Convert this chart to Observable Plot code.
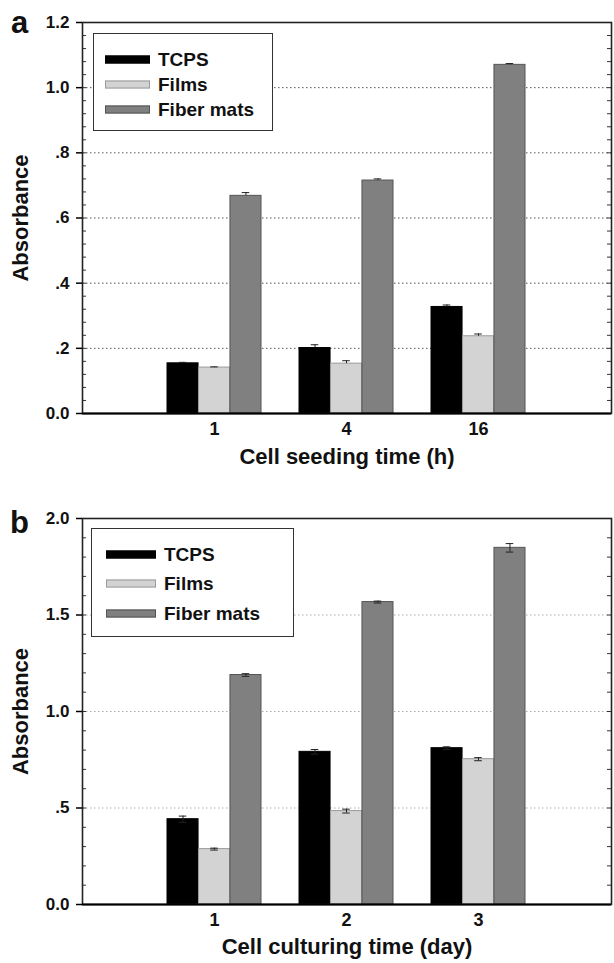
<!DOCTYPE html>
<html>
<head>
<meta charset="utf-8">
<script src="https://cdn.jsdelivr.net/npm/d3@7"></script>
<script src="https://cdn.jsdelivr.net/npm/@observablehq/plot@0.6"></script>
<style>
  body { margin: 0; background: #fff; font-family: "Liberation Sans", Arial, sans-serif; }
  #root { position: relative; width: 614px; height: 963px; overflow: hidden; }
  .panel { position: absolute; left: 0; width: 614px; }
  .panel svg { display: block; }
  .legend { position: absolute; border: 1px solid #333; background: #fff; box-sizing: border-box; }
  .legend .item { position: absolute; display: flex; align-items: center; font-weight: bold; font-size: 19px; color: #111; line-height: 1; transform: translateY(-50%); }
  .legend .sw { display: inline-block; box-sizing: border-box; height: 8px; }
</style>
</head>
<body>
<div id="root"></div>
<script>
// ---------- data ----------
const seriesNames = ["TCPS", "Films", "Fiber mats"];
const seriesFill = ["#000000", "#d3d3d3", "#808080"];
const seriesStroke = ["#000000", "#9a9a9a", "#555555"];

// panel a: cell seeding time (h)
const aTimes = ["1", "4", "16"];
const aTCPS = [0.154, 0.201, 0.327];
const aFilms = [0.141, 0.153, 0.237];
const aFiber = [0.668, 0.715, 1.070];
const aTCPSErr = [0.003, 0.010, 0.006];
const aFilmsErr = [0.002, 0.009, 0.007];
const aFiberErr = [0.010, 0.005, 0.004];
const aTicks = [0, 0.2, 0.4, 0.6, 0.8, 1.0, 1.2];
const aTickLabels = ["0.0", ".2", ".4", ".6", ".8", "1.0", "1.2"];
const aGrid = [0.2, 0.4, 0.6, 0.8, 1.0];

// panel b: cell culturing time (day)
const bTimes = ["1", "2", "3"];
const bTCPS = [0.442, 0.791, 0.810];
const bFilms = [0.287, 0.484, 0.753];
const bFiber = [1.189, 1.567, 1.848];
const bTCPSErr = [0.016, 0.012, 0.007];
const bFilmsErr = [0.005, 0.010, 0.008];
const bFiberErr = [0.007, 0.005, 0.022];
const bTicks = [0, 0.5, 1.0, 1.5, 2.0];
const bTickLabels = ["0.0", ".5", "1.0", "1.5", "2.0"];
const bGrid = [0.5, 1.0, 1.5];

// ---------- drawing ----------
const W = 614, ML = 82, MR = 3;
const PI = 0.286, PO = 0.643;

function makePanel(cfg) {
  const plotW = W - ML - MR;
  const n = cfg.times.length;
  const step = plotW / (n - PI + 2 * PO);
  const bw = step * (1 - PI);
  const sub = bw / 3;
  const minor = d3.range(0, cfg.yMax + 1e-9, cfg.minorStep);

  const marks = [
    Plot.ruleY(cfg.grid, {stroke: cfg.gridColor, strokeWidth: 1, strokeDasharray: "1.5,2.5"})
  ];
  cfg.values.forEach((vals, i) => {
    const rows = cfg.times.map((t, j) => ({time: t, v: vals[j], e: cfg.errors[i][j]}));
    marks.push(Plot.barY(rows, {
      x: "time", y: "v", fill: seriesFill[i], stroke: seriesStroke[i], strokeWidth: 1,
      insetLeft: i * sub, insetRight: (2 - i) * sub
    }));
  });
  cfg.values.forEach((vals, i) => {
    const rows = cfg.times.map((t, j) => ({time: t, v: vals[j], e: cfg.errors[i][j]}));
    const capL = i * sub + sub / 2 - 4, capR = (2 - i) * sub + sub / 2 - 4;
    marks.push(Plot.ruleX(rows, {
      x: "time", y1: d => cfg.lowerErr ? d.v - d.e : d.v, y2: d => d.v + d.e,
      dx: (i - 1) * sub, stroke: "#222", strokeWidth: 1
    }));
    marks.push(Plot.tickY(rows, {x: "time", y: d => d.v + d.e, insetLeft: capL, insetRight: capR, stroke: "#222", strokeWidth: 1}));
    if (cfg.lowerErr) {
      marks.push(Plot.tickY(rows, {x: "time", y: d => d.v - d.e, insetLeft: capL, insetRight: capR, stroke: "#222", strokeWidth: 1}));
    }
  });
  marks.push(
    Plot.tickY(minor, {y: d => d, insetRight: plotW - 4, stroke: "#333", strokeWidth: 1}),
    Plot.tickY(minor, {y: d => d, insetLeft: plotW - 4, stroke: "#333", strokeWidth: 1}),
    Plot.frame({stroke: "#222", strokeWidth: 1.6}),
    Plot.ruleY([0], {stroke: "#000", strokeWidth: 2}),
    Plot.axisY({
      ticks: cfg.ticks, tickFormat: d => cfg.tickLabels[cfg.ticks.indexOf(d)],
      tickSize: 6, tickPadding: 7, fontSize: 17, fontWeight: "bold", label: null, stroke: "#000", strokeWidth: 1.5
    }),
    Plot.axisX({tickSize: 0, tickPadding: 9, fontSize: 18, fontWeight: "bold", label: null}),
    Plot.text([cfg.letter], {text: d => d, frameAnchor: "top-left", dx: -63, dy: cfg.letterDy, fontSize: 31, fontWeight: "bold", textAnchor: "middle", lineAnchor: "bottom"}),
    Plot.text(["Absorbance"], {text: d => d, frameAnchor: "left", dx: -62, rotate: -90, fontSize: 22, fontWeight: "bold", textAnchor: "middle", lineAnchor: "middle"}),
    Plot.text([cfg.xTitle], {text: d => d, frameAnchor: "bottom", dy: cfg.titleDy, fontSize: 22, fontWeight: "bold", textAnchor: "middle", lineAnchor: "bottom"})
  );

  return Plot.plot({
    width: W,
    height: cfg.height,
    marginLeft: ML,
    marginRight: MR,
    marginTop: cfg.marginTop,
    marginBottom: cfg.marginBottom,
    style: {fontFamily: "'Liberation Sans', Arial, sans-serif", color: "#111", background: "#fff", overflow: "visible"},
    x: {type: "band", domain: cfg.times, paddingInner: PI, paddingOuter: PO},
    y: {domain: [0, cfg.yMax]},
    marks
  });
}

function makeLegend(box) {
  const lg = document.createElement("div");
  lg.className = "legend";
  Object.assign(lg.style, {left: box.left + "px", top: box.top + "px", width: box.width + "px", height: box.height + "px"});
  seriesNames.forEach((name, i) => {
    const it = document.createElement("div");
    it.className = "item";
    it.style.left = box.swLeft + "px";
    it.style.top = box.rows[i] + "px";
    const sw = document.createElement("span");
    sw.className = "sw";
    sw.style.width = box.swWidth + "px";
    sw.style.background = seriesFill[i];
    sw.style.border = "1px solid " + seriesStroke[i];
    sw.style.marginRight = box.gap + "px";
    const tx = document.createElement("span");
    tx.textContent = name;
    it.appendChild(sw);
    it.appendChild(tx);
    lg.appendChild(it);
  });
  return lg;
}

const root = document.getElementById("root");

const pa = document.createElement("div");
pa.className = "panel";
pa.style.top = "0px";
pa.appendChild(makePanel({
  times: aTimes, values: [aTCPS, aFilms, aFiber], errors: [aTCPSErr, aFilmsErr, aFiberErr],
  yMax: 1.2, ticks: aTicks, tickLabels: aTickLabels, grid: aGrid, gridColor: "#555",
  minorStep: 0.04, lowerErr: false, letter: "a", letterDy: 10, titleDy: 50, xTitle: "Cell seeding time (h)",
  height: 475, marginTop: 22, marginBottom: 62
}));
pa.appendChild(makeLegend({left: 93, top: 33, width: 180, height: 98, swLeft: 11, swWidth: 45, gap: 8, rows: [25, 50, 75]}));
root.appendChild(pa);

const pb = document.createElement("div");
pb.className = "panel";
pb.style.top = "478px";
pb.appendChild(makePanel({
  times: bTimes, values: [bTCPS, bFilms, bFiber], errors: [bTCPSErr, bFilmsErr, bFiberErr],
  yMax: 2.0, ticks: bTicks, tickLabels: bTickLabels, grid: bGrid, gridColor: "#aaa",
  minorStep: 0.1, lowerErr: true, letter: "b", letterDy: 14, titleDy: 49, xTitle: "Cell culturing time (day)",
  height: 485, marginTop: 40, marginBottom: 59
}));
pb.appendChild(makeLegend({left: 91, top: 50, width: 203, height: 109, swLeft: 14, swWidth: 50, gap: 8, rows: [25, 54, 84]}));
root.appendChild(pb);
</script>
</body>
</html>
